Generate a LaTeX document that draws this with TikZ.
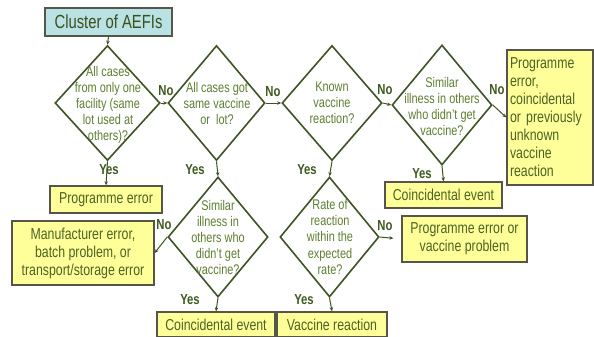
\documentclass[tikz,border=0pt]{standalone}
\usepackage{fontspec}
\setmainfont{Liberation Sans}[FakeStretch=0.78]
\usetikzlibrary{shapes.geometric,arrows.meta,shadows}
\definecolor{dline}{HTML}{3E5424}
\definecolor{dtxt}{HTML}{5E7F30}
\definecolor{btxt}{HTML}{4C6224}
\definecolor{byel}{HTML}{FFFF99}
\definecolor{bbord}{HTML}{55554A}
\definecolor{cyanf}{HTML}{B9E2E4}
\definecolor{lbl}{HTML}{3F5A1E}
\tikzset{
  dia/.style={diamond, draw=dline, line width=1.6pt, inner sep=0pt, aspect=1},
  dtext/.style={text=dtxt, font=\fontsize{14}{16}\selectfont, align=center, inner sep=0pt},
  box/.style={draw=bbord, line width=1.4pt, fill=byel, text=btxt,
    font=\fontsize{15.8}{18}\selectfont, inner sep=0pt, align=center,
    drop shadow={shadow xshift=1.2pt, shadow yshift=-1.2pt, fill=black!45, opacity=0.8}},
  lbl/.style={text=lbl, font=\bfseries\fontsize{14.5}{14}\selectfont, inner sep=0pt},
  conn/.style={draw=dline, line width=1pt, -{Stealth[length=4pt,width=3.5pt]}},
}
\begin{document}
\begin{tikzpicture}[x=1pt,y=-1pt]
\useasboundingbox (0,0) rectangle (594,337);
\fill[white] (0,0) rectangle (594,337);

% start box
\node[draw=bbord, line width=1.4pt, fill=cyanf, text=btxt!80!black,
  font=\fontsize{19}{20}\selectfont, inner sep=0pt,
  minimum width=127pt, minimum height=28pt,
  drop shadow={shadow xshift=1.2pt, shadow yshift=-1.2pt, fill=black!45, opacity=0.8}]
  (start) at (108.5,22) {Cluster of AEFIs};

% diamonds
\node[dia, minimum width=105pt, minimum height=115pt] (d1) at (107.5,103) {};
\node[dtext] at (108,105) {All cases\\from only one\\facility (same\\lot used at\\others)?};

\node[dia, minimum width=97pt, minimum height=115pt] (d2) at (216.5,103) {};
\node[dtext] at (217,103) {All cases got\\same vaccine\\or\ \ lot?};

\node[dia, minimum width=100pt, minimum height=115pt] (d3) at (332,103) {};
\node[dtext] at (332,103) {Known\\vaccine\\reaction?};

\node[dia, minimum width=100pt, minimum height=120pt] (d4) at (442,105) {};
\node[dtext] at (442,106) {Similar\\illness in others\\who didn't get\\vaccine?};

\node[dia, minimum width=100pt, minimum height=120pt] (d5) at (218,237) {};
\node[dtext] at (218,237) {Similar\\illness in\\others who\\didn't get\\vaccine?};

\node[dia, minimum width=99pt, minimum height=120pt] (d6) at (329.5,237) {};
\node[dtext] at (330,237) {Rate of\\reaction\\within the\\expected\\rate?};

% outcome boxes
\node[box, minimum width=112pt, minimum height=27pt] (p1) at (106,199.5) {Programme error};
\node[box, minimum width=142pt, minimum height=64pt] (mf) at (83,253) {Manufacturer error,\\batch problem, or\\transport/storage error};
\node[box, minimum width=117pt, minimum height=26pt] (c1) at (443.5,195) {Coincidental event};
\node[box, minimum width=86pt, minimum height=135pt, align=left, text width=80pt] (rb) at (550,117.5) {Programme\\error,\\coincidental\\or previously\\unknown\\vaccine\\reaction};
\node[box, minimum width=125pt, minimum height=46pt] (p2) at (464.5,239) {Programme error or\\vaccine problem};
\node[box, minimum width=118pt, minimum height=25pt] (c2) at (216,324.5) {Coincidental event};
\node[box, minimum width=110pt, minimum height=25pt] (vr) at (332,324.5) {Vaccine reaction};

% connectors
\draw[conn] (start.south) -- (d1.north);
\draw[conn] (d1.east) -- (d2.west);
\draw[conn] (d2.east) -- (d3.west);
\draw[conn] (d3.east) -- (d4.west);
\draw[conn] (d4.east) -- (rb.west);
\draw[conn] (d1.south) -- (p1.north);
\draw[conn] (d2.south) -- (d5.north);
\draw[conn] (d3.south) -- (d6.north);
\draw[conn] (d4.south) -- (c1.north);
\draw[conn] (d5.west) -- (mf.east);
\draw[conn] (d5.south) -- (c2.north);
\draw[conn, shorten >=8pt] (d6.east) -- (p2.west);
\draw[conn] (d6.south) -- (vr.north);

% labels
\node[lbl] (n1) at (166,91) {No};
\node[lbl] (n2) at (273,92) {No};
\node[lbl] (n3) at (385,90) {No};
\node[lbl] (n4) at (497,90) {No};
\node[lbl] (n5) at (164,225) {No};
\node[lbl] (n6) at (385,226) {No};
\node[lbl] (y1) at (109,170) {Yes};
\node[lbl] (y2) at (195,170) {Yes};
\node[lbl] (y3) at (307,170) {Yes};
\node[lbl] (y4) at (422,174) {Yes};
\node[lbl] (y5) at (190,300) {Yes};
\node[lbl] (y6) at (304,300) {Yes};
\end{tikzpicture}
\end{document}
